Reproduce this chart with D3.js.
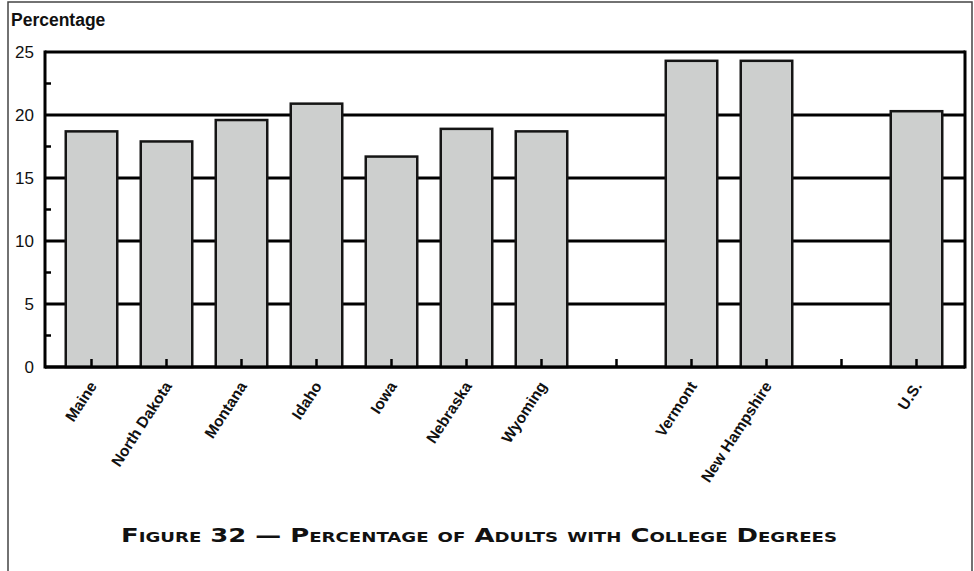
<!DOCTYPE html>
<html>
<head>
<meta charset="utf-8">
<script src="https://cdn.jsdelivr.net/npm/d3@7"></script>
<style>
  body { margin: 0; background: #fff; }
  svg { display: block; }
</style>
</head>
<body>
<div id="chart"></div>
<script>
// slots along the x axis, blanks keep the gaps between groups
const slots = ["Maine", "North Dakota", "Montana", "Idaho", "Iowa", "Nebraska", "Wyoming", "", "Vermont", "New Hampshire", "", "U.S."];
const values = [18.8, 18.0, 19.7, 21.0, 16.8, 19.0, 18.8, null, 24.4, 24.4, null, 20.4];
const yTicks = [0, 5, 10, 15, 20, 25];
const yMinor = [2.5, 7.5, 12.5, 17.5, 22.5];
const yLabel = "Percentage";
const title = "Figure 32 — Percentage of Adults with College Degrees";

const W = 974, H = 571;
const plot = { left: 45, right: 965, top: 52, bottom: 367 };

const svg = d3.select("#chart").append("svg").attr("width", W).attr("height", H);

// outer page frame
svg.append("path")
  .attr("d", `M8,${H} L8,2 L972,2 L972,${H}`)
  .attr("fill", "none")
  .attr("stroke", "#444")
  .attr("stroke-width", 1.5);

const x = d3.scaleBand()
  .domain(d3.range(slots.length))
  .range([54, 954])
  .paddingInner(0.28)
  .paddingOuter(0.14);

const y = d3.scaleLinear().domain([0, 25]).range([plot.bottom, plot.top]);

// gridlines (top one doubles as the frame top)
svg.append("g")
  .selectAll("line")
  .data(yTicks)
  .enter()
  .append("line")
  .attr("x1", plot.left)
  .attr("x2", plot.right)
  .attr("y1", d => y(d))
  .attr("y2", d => y(d))
  .attr("stroke", "#000")
  .attr("stroke-width", 3);

// minor ticks on the y axis
svg.append("g")
  .selectAll("line")
  .data(yMinor)
  .enter()
  .append("line")
  .attr("x1", plot.left)
  .attr("x2", plot.left + 6)
  .attr("y1", d => y(d))
  .attr("y2", d => y(d))
  .attr("stroke", "#000")
  .attr("stroke-width", 2.5);

// bars
const idx = d3.range(slots.length).filter(i => values[i] != null);
svg.append("g")
  .selectAll("rect")
  .data(idx)
  .enter()
  .append("rect")
  .attr("x", i => x(i) + 1.25)
  .attr("width", x.bandwidth() - 2.5)
  .attr("y", i => y(values[i]) + 1.25)
  .attr("height", i => y(0) - y(values[i]) - 1.25)
  .attr("fill", "#cdcfce")
  .attr("stroke", "#151515")
  .attr("stroke-width", 2.5);

// left axis and right frame
svg.append("line")
  .attr("x1", plot.left).attr("x2", plot.left)
  .attr("y1", plot.top - 1.5).attr("y2", plot.bottom + 1.5)
  .attr("stroke", "#000").attr("stroke-width", 3);
svg.append("line")
  .attr("x1", plot.right).attr("x2", plot.right)
  .attr("y1", plot.top - 1.5).attr("y2", plot.bottom + 1.5)
  .attr("stroke", "#000").attr("stroke-width", 3);

// baseline drawn again so it sits over bar bottoms
svg.append("line")
  .attr("x1", plot.left).attr("x2", plot.right)
  .attr("y1", y(0)).attr("y2", y(0))
  .attr("stroke", "#000").attr("stroke-width", 3);

// category ticks pointing up from the baseline
svg.append("g")
  .selectAll("line")
  .data(d3.range(slots.length))
  .enter()
  .append("line")
  .attr("x1", i => x(i) + x.bandwidth() / 2)
  .attr("x2", i => x(i) + x.bandwidth() / 2)
  .attr("y1", y(0))
  .attr("y2", y(0) - 8)
  .attr("stroke", "#000")
  .attr("stroke-width", 2.5);

// y tick labels
svg.append("g")
  .selectAll("text")
  .data(yTicks)
  .enter()
  .append("text")
  .attr("x", 34)
  .attr("y", d => y(d) + 6)
  .attr("text-anchor", "end")
  .attr("font-family", "Liberation Sans, Arial, sans-serif")
  .attr("font-size", "17px")
  .attr("fill", "#111")
  .text(d => d);

svg.append("text")
  .attr("x", 11)
  .attr("y", 26)
  .attr("font-family", "Liberation Sans, Arial, sans-serif")
  .attr("font-weight", "bold")
  .attr("font-size", "17.5px")
  .attr("fill", "#111")
  .text(yLabel);

// rotated category labels
svg.append("g")
  .selectAll("text")
  .data(d3.range(slots.length).filter(i => slots[i] !== ""))
  .enter()
  .append("text")
  .attr("transform", i => `translate(${x(i) + x.bandwidth() / 2 + 6}, 386) rotate(-57)`)
  .attr("text-anchor", "end")
  .attr("font-family", "Liberation Sans, Arial, sans-serif")
  .attr("font-weight", "bold")
  .attr("font-size", "15.5px")
  .attr("fill", "#111")
  .text(i => slots[i]);

// figure caption
svg.append("text")
  .attr("x", 121)
  .attr("y", 542)
  .attr("font-family", "'DejaVu Sans', sans-serif")
  .attr("font-weight", "bold")
  .attr("font-size", "20px")
  .style("font-variant", "small-caps")
  .attr("textLength", 716)
  .attr("lengthAdjust", "spacingAndGlyphs")
  .attr("fill", "#111")
  .text(title);
</script>
</body>
</html>
